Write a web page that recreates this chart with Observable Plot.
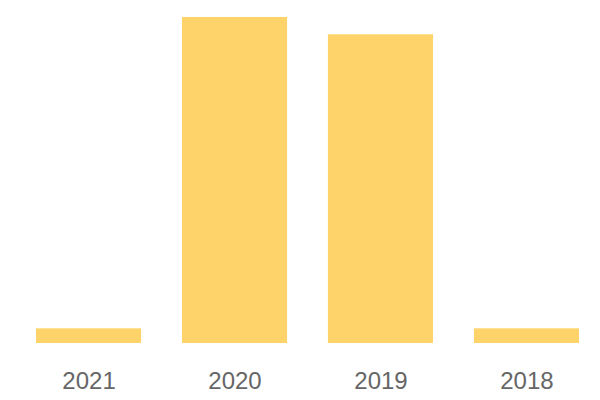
<!DOCTYPE html>
<html>
<head>
<meta charset="utf-8">
<script src="https://cdn.jsdelivr.net/npm/d3@7"></script>
<script src="https://cdn.jsdelivr.net/npm/@observablehq/plot@0.6"></script>
<style>
  html, body { margin: 0; padding: 0; background: #fff; }
</style>
</head>
<body>
<div id="chart"></div>
<script>
const years = ["2021", "2020", "2019", "2018"];
const values = [4.5, 100, 94.7, 4.5];

const data = years.map((y, i) => ({year: y, value: values[i]}));

const chart = Plot.plot({
  width: 600,
  height: 400,
  marginLeft: 36,
  marginRight: 21,
  marginTop: 17,
  marginBottom: 57,
  style: {fontFamily: "'Liberation Sans', Arial, sans-serif", background: "#fff"},
  x: {domain: years, paddingInner: 0.28, paddingOuter: 0, round: false, label: null},
  y: {domain: [0, 100], axis: null},
  marks: [
    Plot.barY(data, {x: "year", y: "value", fill: "#FED46A"}),
    Plot.axisX({tickSize: 0, tickPadding: 28, fontSize: 24, fill: "#666", label: null})
  ]
});
document.getElementById("chart").appendChild(chart);
</script>
</body>
</html>
